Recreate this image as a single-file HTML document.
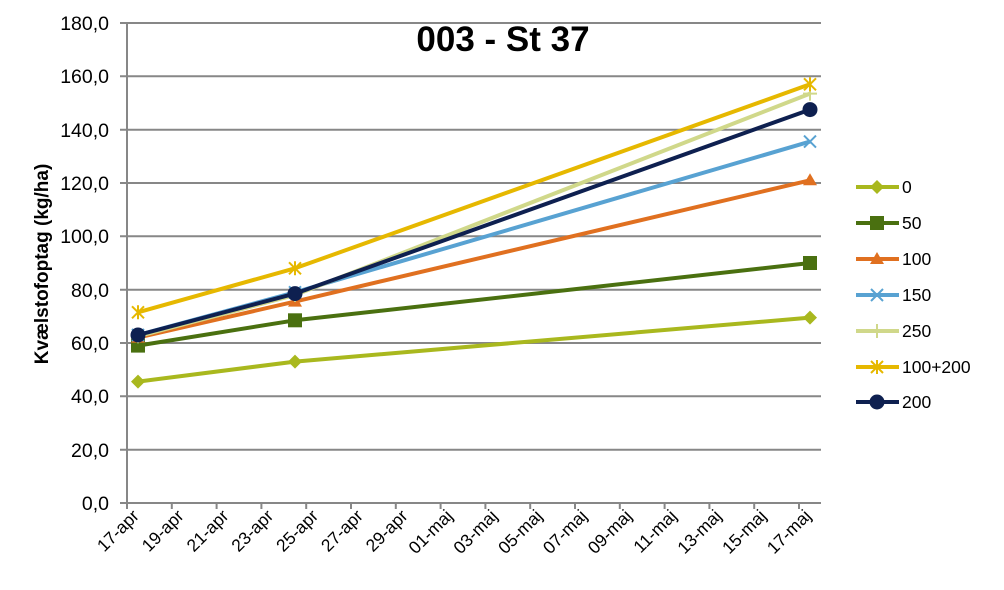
<!DOCTYPE html>
<html><head><meta charset="utf-8"><style>
html,body{margin:0;padding:0;background:#fff;}
svg{display:block;font-family:"Liberation Sans",Arial,sans-serif;}
</style></head><body>
<svg width="1004" height="590" viewBox="0 0 1004 590" xmlns="http://www.w3.org/2000/svg">
<rect width="1004" height="590" fill="#fff"/>
<g stroke="#878787" stroke-width="2">
<line x1="120" y1="23" x2="821" y2="23"/>
<line x1="120" y1="76.3" x2="821" y2="76.3"/>
<line x1="120" y1="129.7" x2="821" y2="129.7"/>
<line x1="120" y1="183" x2="821" y2="183"/>
<line x1="120" y1="236.3" x2="821" y2="236.3"/>
<line x1="120" y1="289.7" x2="821" y2="289.7"/>
<line x1="120" y1="343" x2="821" y2="343"/>
<line x1="120" y1="396.3" x2="821" y2="396.3"/>
<line x1="120" y1="449.7" x2="821" y2="449.7"/>
<line x1="120" y1="503" x2="821" y2="503"/>
<line x1="127" y1="23" x2="127" y2="503"/>
<line x1="127" y1="503" x2="127" y2="509"/><line x1="171.8" y1="503" x2="171.8" y2="509"/>
<line x1="216.6" y1="503" x2="216.6" y2="509"/><line x1="261.4" y1="503" x2="261.4" y2="509"/>
<line x1="306.2" y1="503" x2="306.2" y2="509"/><line x1="351" y1="503" x2="351" y2="509"/>
<line x1="395.8" y1="503" x2="395.8" y2="509"/><line x1="440.6" y1="503" x2="440.6" y2="509"/>
<line x1="485.4" y1="503" x2="485.4" y2="509"/><line x1="530.2" y1="503" x2="530.2" y2="509"/>
<line x1="575" y1="503" x2="575" y2="509"/><line x1="619.8" y1="503" x2="619.8" y2="509"/>
<line x1="664.6" y1="503" x2="664.6" y2="509"/><line x1="709.4" y1="503" x2="709.4" y2="509"/>
<line x1="754.2" y1="503" x2="754.2" y2="509"/><line x1="799" y1="503" x2="799" y2="509"/>
</g>
<g font-size="19.5" text-anchor="end" fill="#000">
<text x="109" y="30">180,0</text><text x="109" y="83">160,0</text><text x="109" y="137">140,0</text>
<text x="109" y="190">120,0</text><text x="109" y="243">100,0</text><text x="109" y="297">80,0</text>
<text x="109" y="350">60,0</text><text x="109" y="403">40,0</text><text x="109" y="457">20,0</text>
<text x="109" y="510">0,0</text>
</g>
<g font-size="17.5" text-anchor="end" fill="#000">
<text transform="translate(140,517) rotate(-45)">17-apr</text>
<text transform="translate(184.8,517) rotate(-45)">19-apr</text>
<text transform="translate(229.6,517) rotate(-45)">21-apr</text>
<text transform="translate(274.4,517) rotate(-45)">23-apr</text>
<text transform="translate(319.2,517) rotate(-45)">25-apr</text>
<text transform="translate(364,517) rotate(-45)">27-apr</text>
<text transform="translate(408.8,517) rotate(-45)">29-apr</text>
<text transform="translate(453.6,517) rotate(-45)">01-maj</text>
<text transform="translate(498.4,517) rotate(-45)">03-maj</text>
<text transform="translate(543.2,517) rotate(-45)">05-maj</text>
<text transform="translate(588,517) rotate(-45)">07-maj</text>
<text transform="translate(632.8,517) rotate(-45)">09-maj</text>
<text transform="translate(677.6,517) rotate(-45)">11-maj</text>
<text transform="translate(722.4,517) rotate(-45)">13-maj</text>
<text transform="translate(767.2,517) rotate(-45)">15-maj</text>
<text transform="translate(812,517) rotate(-45)">17-maj</text>
</g>
<text transform="translate(48,264) rotate(-90)" font-size="19" font-weight="bold" text-anchor="middle">Kvælstofoptag (kg/ha)</text>
<text x="503" y="51" font-size="35" font-weight="bold" text-anchor="middle">003 - St 37</text>
<g fill="none" stroke-width="4" stroke-linejoin="round">
<polyline stroke="#a9b81e" points="138,381.6 295,361.6 810,317.6"/>
<polyline stroke="#4a7010" points="138,345.6 295,320.3 810,263"/>
<polyline stroke="#e07020" points="138,337.6 295,301.6 810,180.3"/>
<polyline stroke="#58a2d2" points="138,335 295,292.3 810,141.6"/>
<polyline stroke="#d0d88a" points="138,336.3 295,295 810,93.6"/>
<polyline stroke="#e6b800" points="138,312.3 295,268.3 810,84.3"/>
<polyline stroke="#0e2050" points="138,335 295,293.6 810,109.6"/>
</g>
<g fill="#a9b81e"><path d="M138 374.6l7 7-7 7-7-7z"/><path d="M295 354.6l7 7-7 7-7-7z"/><path d="M810 310.6l7 7-7 7-7-7z"/></g>
<g fill="#4a7010"><rect x="131" y="338.6" width="14" height="14"/><rect x="288" y="313.3" width="14" height="14"/><rect x="803" y="256" width="14" height="14"/></g>
<g fill="#e07020"><path d="M138 330.6l7 12h-14z"/><path d="M295 294.6l7 12h-14z"/><path d="M810 173.3l7 12h-14z"/></g>
<g stroke="#58a2d2" stroke-width="2"><path d="M132 329l12 12M144 329l-12 12"/><path d="M289 286.3l12 12M301 286.3l-12 12"/><path d="M804 135.6l12 12M816 135.6l-12 12"/></g>
<g stroke="#d0d88a" stroke-width="2"><path d="M131 336.3h14M138 329.3v14"/><path d="M288 295h14M295 288v14"/><path d="M803 93.6h14M810 86.6v14"/></g>
<g stroke="#e6b800" stroke-width="2"><path d="M132 306.3l12 12M144 306.3l-12 12M138 305.3v14"/><path d="M289 262.3l12 12M301 262.3l-12 12M295 261.3v14"/><path d="M804 78.3l12 12M816 78.3l-12 12M810 77.3v14"/></g>
<g fill="#0e2050"><circle cx="138" cy="335" r="7.5"/><circle cx="295" cy="293.6" r="7.5"/><circle cx="810" cy="109.6" r="7.5"/></g>
<g stroke-width="4">
<line x1="856" y1="187" x2="899" y2="187" stroke="#a9b81e"/>
<line x1="856" y1="223" x2="899" y2="223" stroke="#4a7010"/>
<line x1="856" y1="259" x2="899" y2="259" stroke="#e07020"/>
<line x1="856" y1="295" x2="899" y2="295" stroke="#58a2d2"/>
<line x1="856" y1="331" x2="899" y2="331" stroke="#d0d88a"/>
<line x1="856" y1="367" x2="899" y2="367" stroke="#e6b800"/>
<line x1="856" y1="402" x2="899" y2="402" stroke="#0e2050"/>
</g>
<path d="M877 180l7 7-7 7-7-7z" fill="#a9b81e"/>
<rect x="870" y="216" width="14" height="14" fill="#4a7010"/>
<path d="M877 252l7 12h-14z" fill="#e07020"/>
<path d="M871 289l12 12M883 289l-12 12" stroke="#58a2d2" stroke-width="2"/>
<path d="M870 331h14M877 324v14" stroke="#d0d88a" stroke-width="2"/>
<path d="M871 361l12 12M883 361l-12 12M877 360v14" stroke="#e6b800" stroke-width="2"/>
<circle cx="877" cy="402" r="7.5" fill="#0e2050"/>
<g font-size="17.5" fill="#000">
<text x="902" y="193">0</text><text x="902" y="229">50</text><text x="902" y="265">100</text>
<text x="902" y="301">150</text><text x="902" y="337">250</text><text x="902" y="373">100+200</text>
<text x="902" y="408">200</text>
</g>
</svg>
</body></html>
